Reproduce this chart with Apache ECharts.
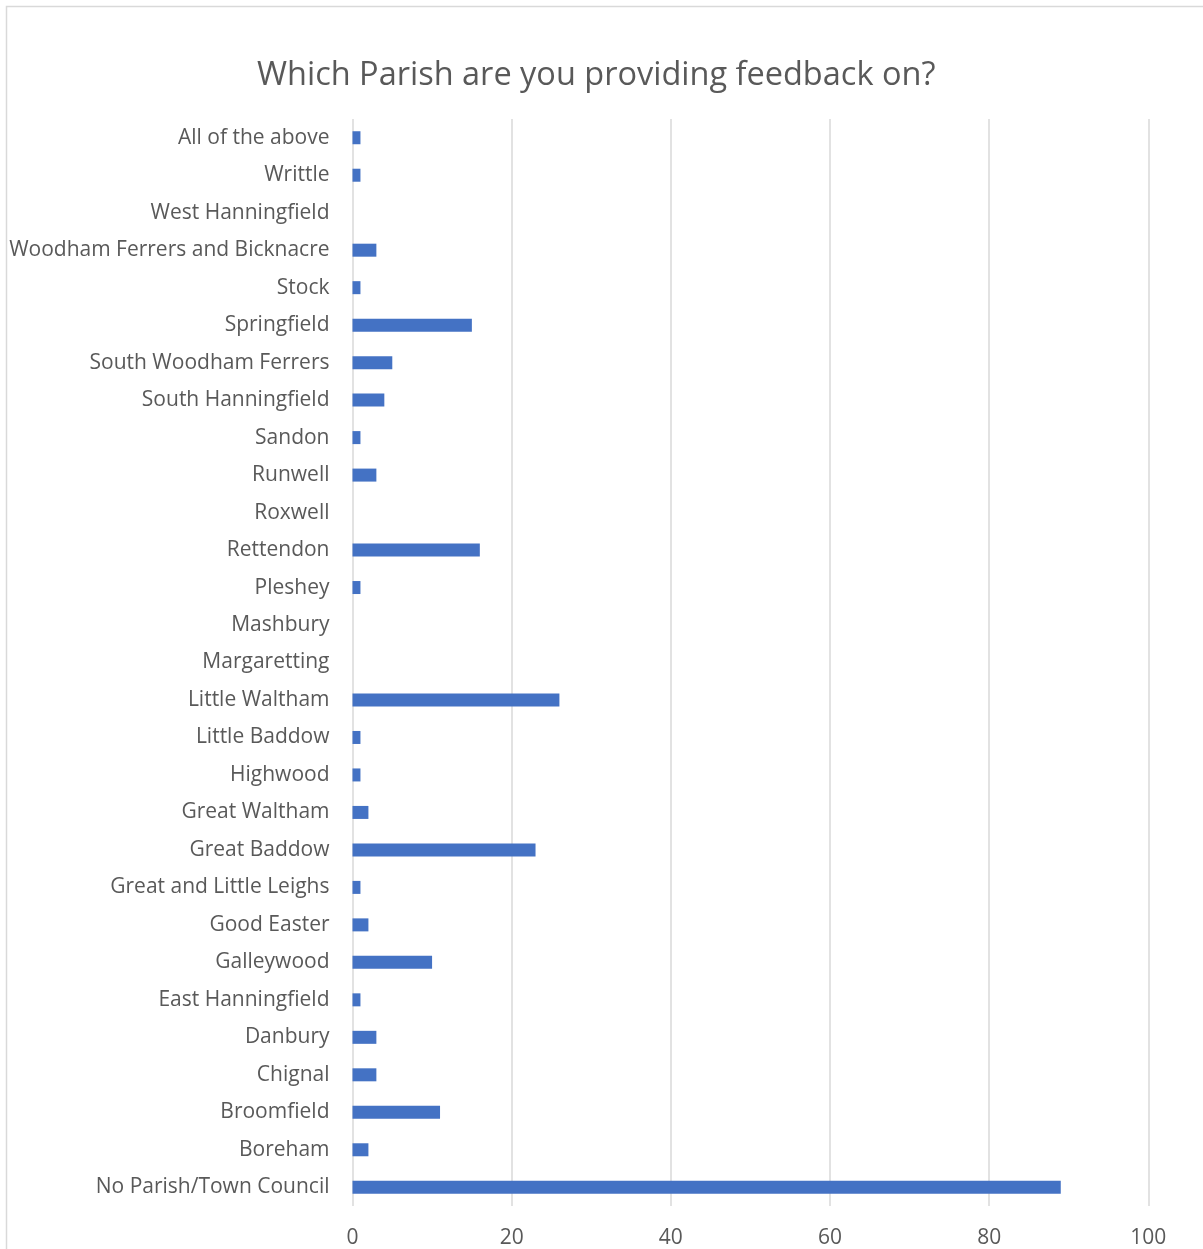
<!DOCTYPE html>
<html><head><meta charset="utf-8">
<script src="https://cdn.jsdelivr.net/npm/echarts@6/dist/echarts.min.js"></script>
<style>html,body{margin:0;padding:0;background:#fff}#c{width:1203px;height:1249px}</style>
</head><body><div id="c"></div>
<script>
const categories = ["All of the above","Writtle","West Hanningfield","Woodham Ferrers and Bicknacre","Stock","Springfield","South Woodham Ferrers","South Hanningfield","Sandon","Runwell","Roxwell","Rettendon","Pleshey","Mashbury","Margaretting","Little Waltham","Little Baddow","Highwood","Great Waltham","Great Baddow","Great and Little Leighs","Good Easter","Galleywood","East Hanningfield","Danbury","Chignal","Broomfield","Boreham","No Parish/Town Council"];
const values = [1,1,0,3,1,15,5,4,1,3,0,16,1,0,0,26,1,1,2,23,1,2,10,1,3,3,11,2,89];
const xTicks = [0,20,40,60,80,100];
const title = "Which Parish are you providing feedback on?";
const FONT = "'Open Sans', sans-serif";
const chart = echarts.init(document.getElementById('c'));
chart.setOption({
  animation:false,
  backgroundColor:'#fff',
  graphic:[{type:'rect',shape:{x:6.5,y:6.5,width:1300,height:1300},style:{fill:'none',stroke:'#d9d9d9',lineWidth:1.5},silent:true}],
  title:{text:title,left:252,top:54,textStyle:{fontFamily:FONT,fontSize:32.5,fontWeight:'normal',color:'#595959'}},
  grid:{left:352.5,right:54.7,top:119,bottom:42.3,containLabel:false},
  xAxis:{type:'value',min:xTicks[0],max:xTicks[xTicks.length-1],interval:20,
    axisLine:{show:false},axisTick:{show:false},
    splitLine:{show:true,lineStyle:{color:'#d9d9d9',width:1.5}},
    axisLabel:{fontFamily:FONT,fontSize:21,color:'#595959',margin:22}},
  yAxis:{type:'category',data:categories,inverse:true,
    axisLine:{show:false},axisTick:{show:false},
    axisLabel:{fontFamily:FONT,fontSize:21,color:'#595959',margin:23,padding:[3,0,0,0]}},
  series:[{type:'bar',data:values,barWidth:13,itemStyle:{color:'#4472C4'}}]
});
</script></body></html>
